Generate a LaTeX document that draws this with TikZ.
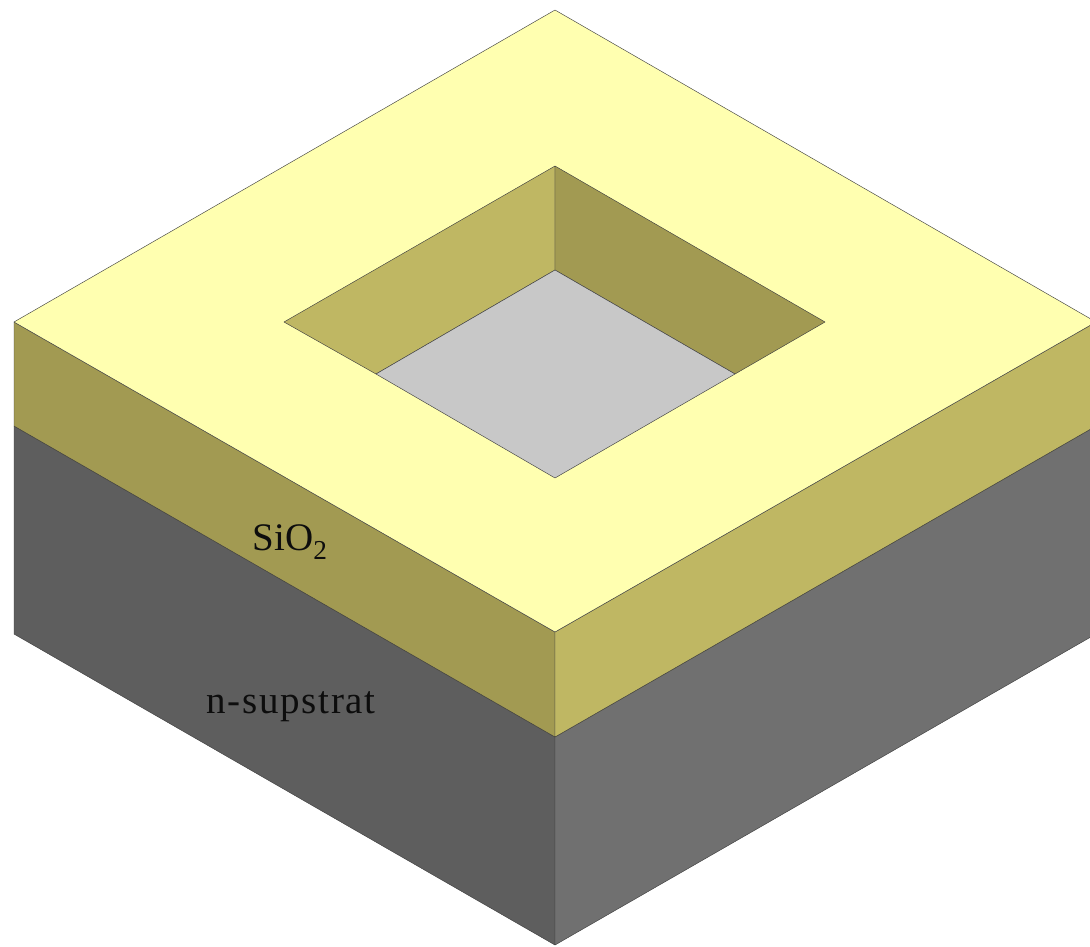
\documentclass[tikz,border=0pt]{standalone}
\usepackage{fontspec}
\setmainfont{Liberation Serif}
\newfontfamily\widerserif[LetterSpace=4.5]{Liberation Serif}
\definecolor{topc}{HTML}{FFFFB0}
\definecolor{oxl}{HTML}{A29A52}
\definecolor{oxr}{HTML}{BFB763}
\definecolor{subl}{HTML}{5E5E5E}
\definecolor{subr}{HTML}{707070}
\definecolor{well}{HTML}{C8C8C8}
\tikzset{face/.style={draw=black!75,line width=0.45pt,line join=round},
lab/.style={font=\fontsize{39}{44}\selectfont,text=black!95,inner sep=0pt}}
\begin{document}
\begin{tikzpicture}[x=1pt,y=-1pt]
\useasboundingbox (0,0) rectangle (1090,946);
\coordinate (T) at (555,10);
\coordinate (L) at (14,322);
\coordinate (R) at (1096,322);
\coordinate (F) at (555,632);
\coordinate (Lm) at (14,426);
\coordinate (Fm) at (555,737);
\coordinate (Rm) at (1096,426);
\coordinate (Lb) at (14,634);
\coordinate (Fb) at (555,945);
\coordinate (Rb) at (1096,634);
\coordinate (it) at (555,166);
\coordinate (il) at (284,322);
\coordinate (ir) at (825,322);
\coordinate (if) at (555,478);
\coordinate (bt) at (555,270);
\coordinate (bl) at (376,374);
\coordinate (br) at (735,374);
\clip (0,0) rectangle (1090,946);
\fill[subl,face] (Lm)--(Fm)--(Fb)--(Lb)--cycle;
\fill[subr,face] (Fm)--(Rm)--(Rb)--(Fb)--cycle;
\fill[oxl,face] (L)--(F)--(Fm)--(Lm)--cycle;
\fill[oxr,face] (F)--(R)--(Rm)--(Fm)--cycle;
\fill[topc,face] (T)--(R)--(F)--(L)--cycle;
\fill[oxr,face] (il)--(it)--(bt)--(bl)--cycle;
\fill[oxl,face] (it)--(ir)--(br)--(bt)--cycle;
\fill[well,face] (bt)--(br)--(if)--(bl)--cycle;
\node[lab] (ox) at (290,542) {SiO\textsubscript{2}};
\node[lab] (sub) at (291,707) {\widerserif n-supstrat};
\end{tikzpicture}
\end{document}
